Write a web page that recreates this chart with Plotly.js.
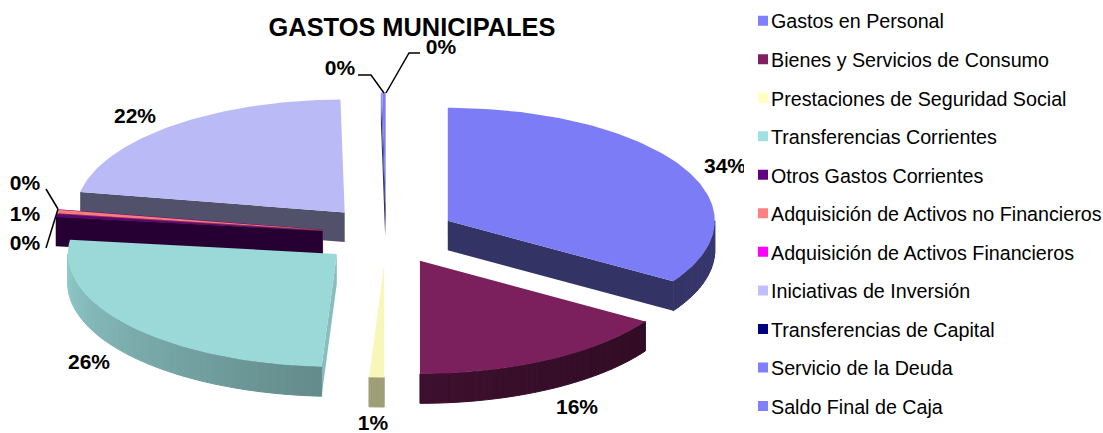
<!DOCTYPE html>
<html>
<head>
<meta charset="utf-8">
<script src="https://cdn.plot.ly/plotly-3.0.1.min.js"></script>
<style>html,body{margin:0;padding:0;background:#fff}#chart{width:1103px;height:433px}</style>
</head>
<body>
<div id="chart"></div>
<script>
// ---- data (share of total, %) ----
const categories = ["Gastos en Personal","Bienes y Servicios de Consumo","Prestaciones de Seguridad Social","Transferencias Corrientes","Otros Gastos Corrientes","Adquisición de Activos no Financieros","Adquisición de Activos Financieros","Iniciativas de Inversión","Transferencias de Capital","Servicio de la Deuda","Saldo Final de Caja"];
const values = [34.0,16.0,0.9,26.1,0.4,0.5,0.01,21.84,0,0.05,0.2];
const chartTitle = "GASTOS MUNICIPALES";

// ---- styles ----
const colors = ["#8080FF","#802060","#FFFFC0","#A0E0E0","#600080","#FF8080","#FF00FF","#C0C0FF","#000080","#8080FF","#8080FF"];
const rimShade = [[.45,.40],[.38,.48],[.62,.62],[.62,.90],[.4,.4],[.5,.5],[.5,.5],[.42,.42],[.4,.4],[.4,.4],[.4,.4]];
const faceShade = [.40,.4,.62,.85,.40,.5,.5,.42,.4,.4,.4];
const labelXY = [[725,168],[577,409],[373,425],[89,364],[25,245],[25,216],[25,185],[135,118],null,[340,70],[441,49]];
const leaderLines = [[[358,371,384],[75,75,93]],[[420,409,386],[53,53,93]],[[46,58],[189,209]],[[46,58],[248,209]]];
const FONT = "Liberation Sans, Arial, sans-serif";
const CX = 386, CY = 235, RX_RIGHT = 267, RX_LEFT = 269, RY = 113, EX_RIGHT = 70.5, EX_LEFT = 64, EY = 29.5, DEPTH = 29.5;
const PIE_W = 744;

function shade(hex, f){
  const n = parseInt(hex.slice(1),16);
  return `rgb(${Math.round((n>>16&255)*f)},${Math.round((n>>8&255)*f)},${Math.round((n&255)*f)})`;
}
const rad = d => d*Math.PI/180;
const total = values.reduce((a,b)=>a+b,0);

// slice geometry derived from values
let acc = 0;
const slices = values.map((v,i)=>{
  const a = acc/total*360; acc += v; const b = acc/total*360; const m = (a+b)/2;
  const left = Math.sin(rad(m))<0;
  const ex = left ? EX_LEFT : EX_RIGHT;
  return {i, v, a, b, rx: left ? RX_LEFT : RX_RIGHT, ax: CX+ex*Math.sin(rad(m)), ay: CY-EY*Math.cos(rad(m))};
});
const pt = (s,t)=>[s.ax+s.rx*Math.sin(rad(t)), s.ay-RY*Math.cos(rad(t))];

function poly(xs, ys, color, hair){
  return {type:"scatter",mode:"lines",x:xs.concat(xs[0]),y:ys.concat(ys[0]),fill:"toself",fillcolor:color,
    line:{color:color,width:hair?1:0},hoverinfo:"skip",showlegend:false};
}
const traces = [];
// paint from the back to the front
const drawOrder = [10,9,8,7,6,5,4,0,3,2,1];
drawOrder.forEach(idx=>{
  const s = slices[idx];
  if(s.v<=0) return;
  const col = colors[idx];
  // radial cut faces
  const face = t=>{
    const p = pt(s,t);
    traces.push(poly([s.ax,p[0],p[0],s.ax],[s.ay,p[1],p[1]+DEPTH,s.ay+DEPTH],shade(col,faceShade[idx]),false));
  };
  if(Math.sin(rad(s.a))<0) face(s.a);
  if(Math.sin(rad(s.b))>0.01) face(s.b);
  // outer rim in shaded bands
  const r0 = Math.max(s.a,90), r1 = Math.min(s.b,270);
  if(r1>r0){
    const n = Math.max(1,Math.ceil((r1-r0)/2));
    for(let k=0;k<n;k++){
      const t0=r0+(r1-r0)*k/n, t1=r0+(r1-r0)*(k+1)/n;
      const a0=pt(s,t0), a1=pt(s,t1);
      const f=rimShade[idx][0]+(rimShade[idx][1]-rimShade[idx][0])*(k+.5)/n;
      traces.push(poly([a0[0],a1[0],a1[0],a0[0]],[a0[1],a1[1],a1[1]+DEPTH,a0[1]+DEPTH],shade(col,f),true));
    }
  }
  // top face
  const xs=[s.ax],ys=[s.ay];
  const steps=Math.max(2,Math.ceil(s.b-s.a));
  for(let k=0;k<=steps;k++){const p=pt(s,s.a+(s.b-s.a)*k/steps);xs.push(p[0]);ys.push(p[1]);}
  traces.push(poly(xs,ys,shade(col,.97),false));
});
// leader lines
leaderLines.forEach(l=>traces.push({type:"scatter",mode:"lines",x:l[0],y:l[1],line:{color:"#000",width:1.5},hoverinfo:"skip",showlegend:false}));
// percent labels
const lab = slices.filter(s=>s.v>0 && labelXY[s.i]);
traces.push({type:"scatter",mode:"text",x:lab.map(s=>labelXY[s.i][0]),y:lab.map(s=>labelXY[s.i][1]),
  text:lab.map(s=>Math.max(Math.round(s.v),0)+"%"),textposition:"middle center",cliponaxis:true,
  textfont:{family:FONT,size:21,color:"#000",weight:700},hoverinfo:"skip",showlegend:false});
// legend entries
categories.forEach((c,i)=>traces.push({type:"scatter",mode:"markers",x:[null],y:[null],name:c,legendgroup:"g"+i,
  marker:{symbol:"square",size:10,color:colors[i]},showlegend:true}));

const layout = {
  width:1103,height:433,margin:{l:0,r:0,t:0,b:0,autoexpand:false},paper_bgcolor:"#fff",plot_bgcolor:"#fff",
  title:{text:chartTitle,x:412/1103,xanchor:"center",xref:"paper",y:1-27/433,yanchor:"middle",font:{family:FONT,size:25.4,color:"#000",weight:700}},
  xaxis:{domain:[0,PIE_W/1103],range:[0,PIE_W],visible:false,fixedrange:true},
  yaxis:{domain:[0,1],range:[433,0],visible:false,fixedrange:true},
  showlegend:true,
  legend:{x:731/1103,xanchor:"left",y:1-1.5/433,yanchor:"top",traceorder:"grouped",tracegroupgap:9.9,bgcolor:"rgba(0,0,0,0)",
    font:{family:FONT,size:19.7,color:"#000"},itemclick:false,itemdoubleclick:false}
};
Plotly.newPlot("chart",traces,layout,{displayModeBar:false,staticPlot:true}).then(()=>{
  document.querySelectorAll(".legend .legendsymbols").forEach(g=>g.setAttribute("transform","translate(12,0)"));
});
</script>
</body>
</html>
